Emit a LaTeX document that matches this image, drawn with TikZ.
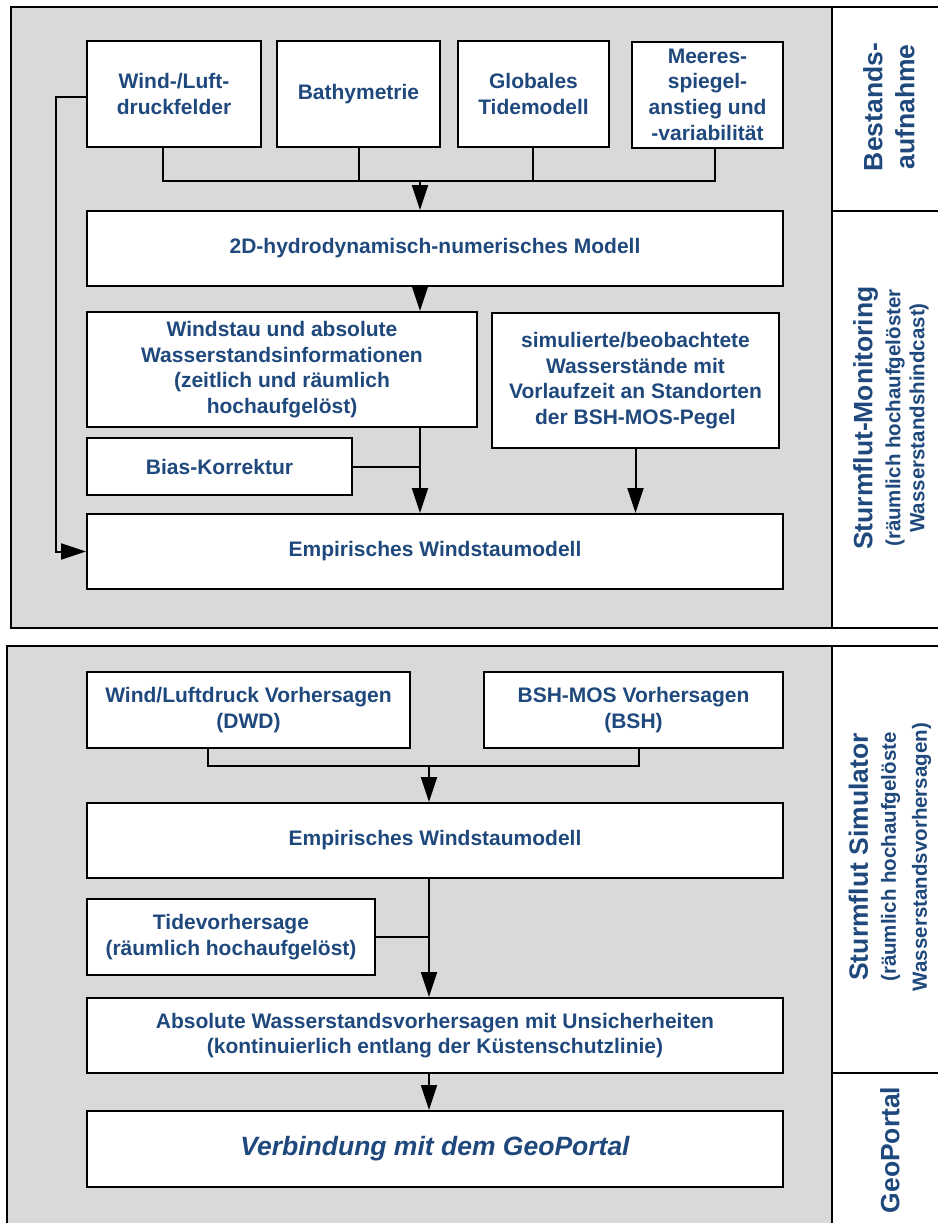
\documentclass[tikz,border=0pt]{standalone}
\usepackage{fontspec}
\setmainfont{Liberation Sans}
\usepackage{tikz}
\usetikzlibrary{positioning}
\usetikzlibrary{arrows.meta}
\definecolor{labelblue}{RGB}{31,73,125}
\definecolor{panelgrey}{RGB}{217,217,217}
\pgfdeclarelayer{panellayer}
\pgfdeclarelayer{nodelayer}
\pgfdeclarelayer{edgelayer}
\pgfsetlayers{panellayer,edgelayer,nodelayer,main}
\newcommand{\sidesub}{\fontsize{10.25}{12}\selectfont}
\tikzstyle{none}=[inner sep=0pt]
\tikzstyle{panel}=[fill=panelgrey, draw=black, line width=1pt]
\tikzstyle{rule}=[draw=black, line width=1pt]
\tikzset{box/.style={draw=black, fill=white, line width=1pt, inner sep=0pt,
align=center, text=labelblue, font=\bfseries\fontsize{10.5}{12.85}\selectfont,
anchor=center}}
\tikzset{side/.style={rotate=90, inner sep=0pt, align=center, text=labelblue,
font=\bfseries\fontsize{13.25}{16}\selectfont}}
\tikzset{wire/.style={line width=1pt}}
\tikzset{flow/.style={line width=1pt, -{Triangle[length=12.5pt,width=8pt]}}}

\begin{document}
\begin{tikzpicture}[x=5pt, y=5pt]
	\useasboundingbox (0, 0) rectangle (93.8, -122.3);
	\begin{pgfonlayer}{panellayer}
		\draw [style=panel] (1.1, -0.7) rectangle (83.2, -62.8);
		\draw [style=rule] (83.2, -0.7) -- (96, -0.7);
		\draw [style=rule] (83.2, -21.1) -- (96, -21.1);
		\draw [style=rule] (83.2, -62.8) -- (96, -62.8);
		\draw [style=panel] (0.7, -64.6) rectangle (83.2, -125);
		\draw [style=rule] (83.2, -64.6) -- (96, -64.6);
		\draw [style=rule] (83.2, -107.3) -- (96, -107.3);
	\end{pgfonlayer}
	\begin{pgfonlayer}{nodelayer}
		\node [style=box, minimum width=87pt, minimum height=53pt] (0) at (17.4, -9.4) {Wind-/Luft-\\druckfelder};
		\node [style=box, minimum width=81.5pt, minimum height=53pt] (1) at (35.85, -9.4) {Bathymetrie};
		\node [style=box, minimum width=75.5pt, minimum height=53pt] (2) at (53.35, -9.4) {Globales\\Tidemodell};
		\node [style=box, minimum width=75.5pt, minimum height=53pt] (3) at (70.75, -9.45) {Meeres-\\spiegel-\\anstieg und\\-variabilität};
		\node [style=none] (4) at (16.3, -18.1) {};
		\node [style=none] (5) at (35.9, -18.1) {};
		\node [style=none] (6) at (53.3, -18.1) {};
		\node [style=none] (7) at (71.5, -18.1) {};
		\node [style=none] (8) at (42.0, -18.1) {};
		\node [style=box, minimum width=348pt, minimum height=37.5pt] (9) at (43.5, -24.85) {2D-hydrodynamisch-numerisches Modell};
		\node [style=box, minimum width=195pt, minimum height=57.5pt] (10) at (28.2, -36.95) {Windstau und absolute\\Wasserstandsinformationen\\(zeitlich und räumlich\\hochaufgelöst)};
		\node [style=box, minimum width=132.5pt, minimum height=28.5pt] (11) at (21.95, -46.65) {Bias-Korrektur};
		\node [style=box, minimum width=143.5pt, minimum height=67.5pt] (12) at (63.55, -38.05) {simulierte/beobachtete\\Wasserstände mit\\Vorlaufzeit an Standorten\\der BSH-MOS-Pegel};
		\node [style=box, minimum width=348pt, minimum height=37.5pt] (13) at (43.5, -55.15) {Empirisches Windstaumodell};
		\node [style=none] (14) at (5.6, -9.7) {};
		\node [style=box, minimum width=161.5pt, minimum height=38pt] (15) at (24.85, -71.0) {Wind/Luftdruck Vorhersagen\\(DWD)};
		\node [style=box, minimum width=149.5pt, minimum height=38pt] (16) at (63.35, -71.0) {BSH-MOS Vorhersagen\\(BSH)};
		\node [style=none] (17) at (20.8, -76.6) {};
		\node [style=none] (18) at (63.9, -76.6) {};
		\node [style=none] (19) at (42.9, -76.6) {};
		\node [style=box, minimum width=348pt, minimum height=37.5pt] (20) at (43.5, -84.05) {Empirisches Windstaumodell};
		\node [style=box, minimum width=144pt, minimum height=38pt] (21) at (23.1, -93.7) {Tidevorhersage\\(räumlich hochaufgelöst)};
		\node [style=box, minimum width=348pt, minimum height=37.5pt] (22) at (43.5, -103.55) {Absolute Wasserstandsvorhersagen mit Unsicherheiten\\(kontinuierlich entlang der Küstenschutzlinie)};
		\node [style=box, minimum width=348pt, minimum height=38pt, font=\bfseries\itshape\fontsize{13.25}{16}\selectfont] (23) at (43.5, -114.9) {Verbindung mit dem GeoPortal};
		\node [style=side] (24) at (88.9, -10.7) {Bestands-\\aufnahme};
		\node [style=side] (25) at (89.1, -41.8) {Sturmflut-Monitoring\\[-2pt]{\sidesub (räumlich hochaufgelöster}\\[-4pt]{\sidesub Wasserstandshindcast)}};
		\node [style=side] (26) at (89.0, -85.7) {Sturmflut Simulator\\[-2pt]{\sidesub (räumlich hochaufgelöste}\\[-0.5pt]{\sidesub Wasserstandsvorhersagen)}};
		\node [style=side] (27) at (89.0, -115.0) {GeoPortal};
	\end{pgfonlayer}
	\begin{pgfonlayer}{edgelayer}
		\draw [style=wire] (4.center |- 0.south) -- (4.center) -- (7.center) -- (7.center |- 3.south);
		\draw [style=wire] (5.center |- 1.south) -- (5.center);
		\draw [style=wire] (6.center |- 2.south) -- (6.center);
		\draw [style=flow] (8.center) -- (8.center |- 9.north);
		\draw [style=flow] (8.center |- 9.south) -- (8.center |- 10.north);
		\draw [style=flow] (8.center |- 10.south) -- (8.center |- 13.north);
		\draw [style=wire] (11.east) -- (8.center |- 11.east);
		\draw [style=flow] (12.south) -- (12.south |- 13.north);
		\draw [style=flow] (0.west |- 14.center) -- (14.center) |- (13.west);
		\draw [style=wire] (17.center |- 15.south) -- (17.center) -- (18.center) -- (18.center |- 16.south);
		\draw [style=flow] (19.center) -- (19.center |- 20.north);
		\draw [style=flow] (19.center |- 20.south) -- (19.center |- 22.north);
		\draw [style=wire] (21.east) -- (19.center |- 21.east);
		\draw [style=flow] (19.center |- 22.south) -- (19.center |- 23.north);
	\end{pgfonlayer}
\end{tikzpicture}
\end{document}
